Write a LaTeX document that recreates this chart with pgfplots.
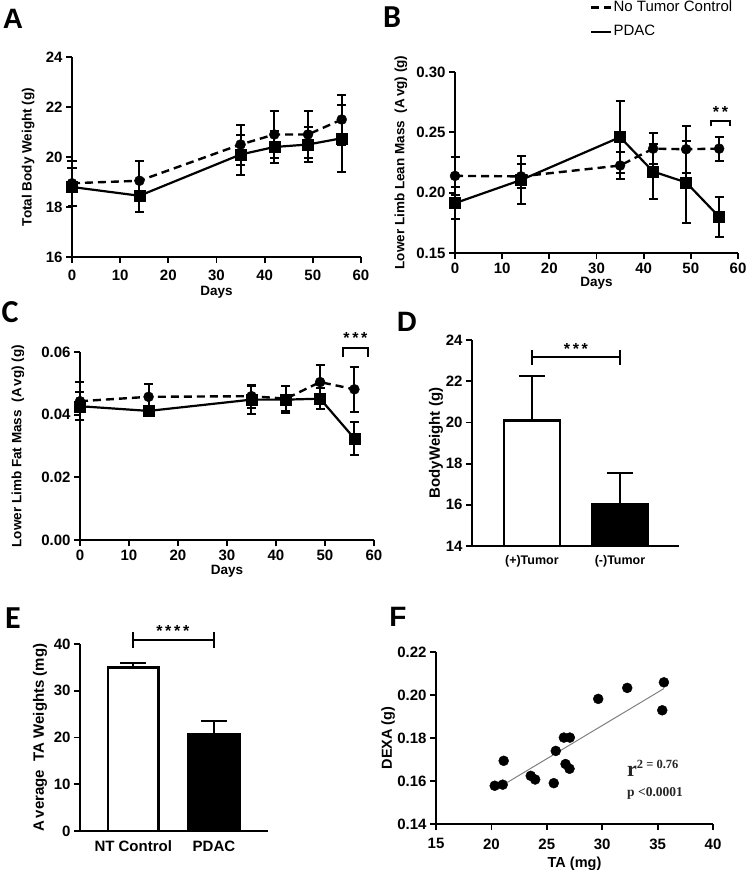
\documentclass[border=0pt]{standalone}
\usepackage{fontspec}
\setmainfont{Liberation Sans}
\newfontfamily\carlito{Carlito}
\newfontfamily\serifb{Liberation Serif}
\usepackage{pgfplots}
\pgfplotsset{compat=1.18}
\pgfplotsset{
  gp/.style={
    scale only axis, axis lines=left,
    axis line style={-, line width=2.2pt, black},
    tick style={line width=1.8pt, black},
    major tick length=6pt, tick align=outside, tick pos=left,
    /pgf/number format/assume math mode=true,
    tick label style={font=\fontsize{15}{15}\selectfont\bfseries},
    label style={font=\fontsize{13.5}{13.5}\selectfont\bfseries},
    scaled ticks=false,
  },
  ebars/.style={
    error bars/y dir=both, error bars/y explicit,
    error bars/error bar style={line width=2pt, solid},
    error bars/error mark options={rotate=90, line width=2pt, mark size=4.5pt, solid},
  },
  ctrl/.style={black, line width=2.4pt, dash pattern=on 8pt off 5pt, mark=*, mark size=5pt,
    mark options={solid, line width=0.4pt}, ebars},
  pdac/.style={black, line width=2.2pt, solid, mark=square*, mark size=5.5pt,
    mark options={solid, line width=0.4pt}, ebars},
  bareb/.style={error bars/y dir=plus, error bars/y explicit,
    error bars/error bar style={line width=2pt, solid, black},
    error bars/error mark options={rotate=90, line width=2pt, mark size=13pt, solid, black}},
}
\begin{document}
\begin{tikzpicture}
\path[use as bounding box] (0,0) rectangle (746pt,-870pt);
% panel letters
\node[font=\bfseries\fontsize{28}{28}\selectfont] at (13pt,-19pt) {A};
\node[font=\carlito\bfseries\fontsize{32}{32}\selectfont] at (392pt,-17pt) {B};
\node[font=\carlito\bfseries\fontsize{32}{32}\selectfont] at (10pt,-312pt) {C};
\node[font=\bfseries\fontsize{28}{28}\selectfont] at (407pt,-322pt) {D};
\node[font=\carlito\bfseries\fontsize{32}{32}\selectfont] at (13pt,-618pt) {E};
\node[font=\bfseries\fontsize{28}{28}\selectfont] at (398pt,-617pt) {F};

% ---------------- A
\begin{axis}[gp, at={(72pt,-257pt)}, anchor=south west, width=289pt, height=200pt,
  xmin=0, xmax=60, ymin=16, ymax=24, xtick={0,10,...,60}, ytick={16,18,...,24},
  clip=false, xticklabel style={yshift=-3pt},
  xlabel={Days}, ylabel={Total Body Weight (g)},
  xlabel style={at={(axis description cs:0.5,-0.178)}, anchor=center},
  ylabel style={at={(axis description cs:-0.152,0.5)}, anchor=center}]
\addplot[pdac] coordinates {(0,18.8)+-(0,0.75) (14,18.45)+-(0,0.65) (35,20.1)+-(0,0.8)
  (42,20.4)+-(0,0.65) (49,20.5)+-(0,0.7) (56,20.75)+-(0,1.35)};
\addplot[ctrl] coordinates {(0,18.95)+-(0,0.9) (14,19.05)+-(0,0.8) (35,20.5)+-(0,0.8)
  (42,20.9)+-(0,0.95) (49,20.9)+-(0,0.95) (56,21.5)+-(0,1.0)};
\end{axis}

% ---------------- B
\begin{axis}[gp, at={(455pt,-253pt)}, anchor=south west, width=283pt, height=181pt,
  xmin=0, xmax=60, ymin=0.15, ymax=0.30, xtick={0,10,...,60}, ytick={0.15,0.20,0.25,0.30},
  yticklabel style={/pgf/number format/.cd, fixed, fixed zerofill, precision=2},
  clip=false,
  xlabel={Days}, ylabel={Lower Limb Lean Mass\ \ (A\,vg) (g)},
  xlabel style={at={(axis description cs:0.5,-0.165)}, anchor=center},
  ylabel style={at={(axis description cs:-0.191,0.5)}, anchor=center},
  legend style={draw=none, fill=none, inner sep=0pt, at={(axis description cs:0.477,1.398)},
    anchor=north west, font=\fontsize{15}{15}\selectfont, row sep=9pt,
    nodes={inner sep=1pt, text height=10pt, text depth=3pt}},
  legend cell align=left,
  legend image code/.code={\draw[#1] (0pt,0pt) -- (20pt,0pt);}]
\addplot[ctrl] coordinates {(0,0.2139)+-(0,0.0155) (14,0.2135)+-(0,0.01) (35,0.2225)+-(0,0.011)
  (42,0.2365)+-(0,0.013) (49,0.236)+-(0,0.0195) (56,0.2365)+-(0,0.01)};
\addlegendentry{No Tumor Control}
\addplot[pdac] coordinates {(0,0.1913)+-(0,0.013) (14,0.2105)+-(0,0.0195) (35,0.246)+-(0,0.03)
  (42,0.2175)+-(0,0.0225) (49,0.2085)+-(0,0.034) (56,0.18)+-(0,0.0165)};
\addlegendentry{PDAC}
\draw[line width=2pt] (axis cs:54.3,0.2552) -- (axis cs:54.3,0.2594) -- (axis cs:58.3,0.2594) -- (axis cs:58.3,0.2552);
\node[anchor=base, font=\fontsize{16}{16}\selectfont\bfseries] at (axis cs:56.3,0.2625) {*\,*};
\end{axis}

% ---------------- C
\begin{axis}[gp, at={(80pt,-540pt)}, anchor=south west, width=294pt, height=188pt,
  xmin=0, xmax=60, ymin=0, ymax=0.06, xtick={0,10,...,60}, ytick={0,0.02,0.04,0.06},
  yticklabel style={/pgf/number format/.cd, fixed, fixed zerofill, precision=2},
  clip=false,
  xlabel={Days}, ylabel={Lower Limb Fat Mass\ \ (A\,vg) (g)},
  xlabel style={at={(axis description cs:0.5,-0.168)}, anchor=center},
  ylabel style={at={(axis description cs:-0.211,0.5)}, anchor=center}]
\addplot[pdac] coordinates {(0,0.0427)+-(0,0.0045) (14,0.0412)+-(0,0.001) (35,0.0448)+-(0,0.0045)
  (42,0.0448)+-(0,0.0043) (49,0.0451)+-(0,0.0034) (56,0.0324)+-(0,0.0053)};
\addplot[ctrl] coordinates {(0,0.0443)+-(0,0.006) (14,0.0457)+-(0,0.004) (35,0.0459)+-(0,0.0037)
  (42,0.0451)+-(0,0.004) (49,0.0504)+-(0,0.0054) (56,0.0481)+-(0,0.0071)};
\draw[line width=2pt] (axis cs:53.7,0.0584) -- (axis cs:53.7,0.0613) -- (axis cs:58.8,0.0613) -- (axis cs:58.8,0.0584);
\node[anchor=base, font=\fontsize{16}{16}\selectfont\bfseries] at (axis cs:56.2,0.0626) {*\,*\,*};
\end{axis}

% ---------------- D
\begin{axis}[gp, at={(472pt,-546pt)}, anchor=south west, width=207pt, height=206pt,
  xmin=-0.68, xmax=1.67, ymin=14, ymax=24, xtick={0,1}, xticklabels={(+)Tumor,(-)Tumor},
  ytick={14,16,...,24}, xtick style={draw=none},
  xticklabel style={font=\fontsize{12.5}{12.5}\selectfont\bfseries},
  clip mode=individual,
  ylabel={BodyWeight (g)},
  ylabel style={font=\fontsize{15}{15}\selectfont\bfseries, at={(axis description cs:-0.174,0.5)}, anchor=center}]
\addplot[ybar, bar width=0.64, bar shift=0pt, fill=white, draw=black, line width=2.4pt, bareb]
  coordinates {(0,20.1)+-(0,2.15)};
\addplot[ybar, bar width=0.64, bar shift=0pt, fill=black, draw=black, line width=2.4pt, bareb]
  coordinates {(1,16.05)+-(0,1.5)};
\draw[line width=2pt] (axis cs:0,22.78) -- (axis cs:0,23.51);
\draw[line width=2pt] (axis cs:1,22.78) -- (axis cs:1,23.51);
\draw[line width=2pt] (axis cs:0,23.19) -- (axis cs:1,23.19);
\node[anchor=base, font=\fontsize{16}{16}\selectfont\bfseries] at (axis cs:0.5,23.3) {*\,*\,*};
\end{axis}

% ---------------- E
\begin{axis}[gp, at={(80pt,-831pt)}, anchor=south west, width=188pt, height=187pt,
  xmin=-0.66, xmax=1.67, ymin=0, ymax=40, xtick={0,1}, xticklabels={NT Control,PDAC},
  ytick={0,10,...,40}, xtick style={draw=none},
  clip mode=individual,
  ylabel={A\,verage\ \ TA Weights (mg)},
  ylabel style={font=\fontsize{15}{15}\selectfont\bfseries, at={(axis description cs:-0.213,0.5)}, anchor=center}]
\addplot[ybar, bar width=0.63, bar shift=0pt, fill=white, draw=black, line width=2.4pt, bareb]
  coordinates {(0,35.0)+-(0,1.0)};
\addplot[ybar, bar width=0.63, bar shift=0pt, fill=black, draw=black, line width=2.4pt, bareb]
  coordinates {(1,20.8)+-(0,2.7)};
\draw[line width=2pt] (axis cs:0,39.1) -- (axis cs:0,42.6);
\draw[line width=2pt] (axis cs:1,39.1) -- (axis cs:1,42.6);
\draw[line width=2pt] (axis cs:0,40.86) -- (axis cs:1,40.86);
\node[anchor=base, font=\fontsize{16}{16}\selectfont\bfseries] at (axis cs:0.49,41.6) {*\,*\,*\,*};
\end{axis}

% ---------------- F
\begin{axis}[gp, at={(436pt,-824pt)}, anchor=south west, width=277pt, height=172pt,
  xmin=15, xmax=40, ymin=0.14, ymax=0.22, xtick={15,20,...,40}, ytick={0.14,0.16,...,0.22},
  yticklabel style={/pgf/number format/.cd, fixed, fixed zerofill, precision=2},
  clip=false, xticklabel style={yshift=-5pt},
  xlabel={TA (mg)}, ylabel={DEXA (g)},
  label style={font=\fontsize{14.5}{14.5}\selectfont\bfseries},
  xlabel style={at={(axis description cs:0.5,-0.233)}, anchor=center},
  ylabel style={at={(axis description cs:-0.173,0.5)}, anchor=center}]
\addplot[gray, line width=1pt] coordinates {(21.42,0.1593) (35.57,0.2030)};
\addplot[only marks, mark=*, mark size=5pt, black] coordinates {
  (20.30,0.1578) (21.02,0.1583) (21.11,0.1694) (23.55,0.1624) (23.95,0.1607)
  (25.63,0.1590) (25.81,0.1740) (26.54,0.1802) (27.08,0.1802) (26.69,0.1679)
  (27.05,0.1657) (29.64,0.1982) (32.26,0.2033) (35.57,0.2059) (35.42,0.1929)};
\node[anchor=base west, inner sep=0pt, font=\serifb\bfseries, text=black!85] at (axis cs:32.24,0.1619)
  {\fontsize{22}{22}\selectfont r\raisebox{0.4em}{\fontsize{12.5}{12.5}\selectfont 2 = 0.76}};
\node[anchor=base west, inner sep=0pt, font=\serifb\bfseries\fontsize{13.5}{13.5}\selectfont, text=black!85] at (axis cs:32.24,0.1530)
  {p <0.0001};
\end{axis}
\end{tikzpicture}
\end{document}
